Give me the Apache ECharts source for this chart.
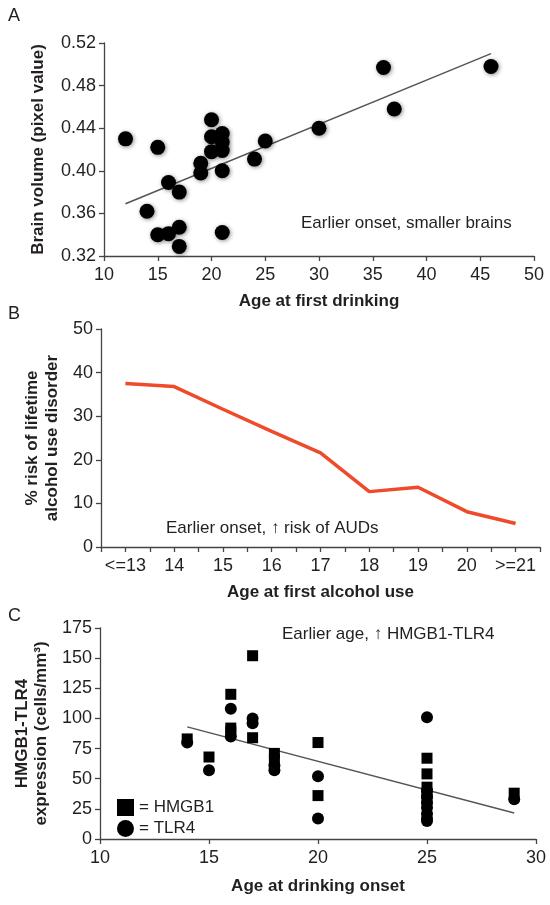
<!DOCTYPE html>
<html><head><meta charset="utf-8">
<script src="https://cdn.jsdelivr.net/npm/echarts@6/dist/echarts.min.js"></script>
<style>html,body{margin:0;padding:0;background:#fff}#c{width:550px;height:905px}</style>
</head><body><div id="c"></div>
<script>
// Panel A: brain volume vs age at first drinking
const ageA = [12,14,15,15,16,16,17,17,17,19,19,20,20,20,21,21,21,21,21,24,25,30,36,37,46];
const volA = [0.430,0.362,0.422,0.340,0.389,0.341,0.380,0.347,0.329,0.407,0.398,0.448,0.432,0.418,0.435,0.427,0.419,0.400,0.342,0.411,0.428,0.440,0.497,0.458,0.498];
const trendAx = [12,46];
const trendAy = [0.369,0.510];
// Panel B: risk of AUD by age at first alcohol use
const catB = ['<=13','14','15','16','17','18','19','20','>=21'];
const riskB = [37.5,36.8,31.6,26.5,21.6,12.7,13.7,8.1,5.4];
// Panel C: HMGB1 / TLR4 expression vs age at drinking onset
const hmgbX = [14,15,16,16,16,17,17,18,18,20,20,25,25,25,25,25,29];
const hmgbY = [83,68,120,92,89,152,84,71,66,80,36,67,54,43,38,33,38];
const tlrX = [14,15,16,16,17,17,18,18,20,20,25,25,25,25,25,25,25,25,29];
const tlrY = [80,57,108,85,100,96,61,57,52,17,101,40,35,30,26,21,17,15,33];
const trendCx = [14,29];
const trendCy = [93,21.5];

const FONT = '"Liberation Sans", Arial, Helvetica, sans-serif';
const TXT = '#231f20';
const AX = '#444';
const LBL = 18;
const TTL = 17;
const pair = (xs, ys) => xs.map((x, i) => [x, ys[i]]);

function axisBase(extra) {
  return Object.assign({
    axisLine: { show: true, lineStyle: { color: AX, width: 1.3 } },
    axisTick: { show: true, length: 5, lineStyle: { color: AX, width: 1.3 } },
    splitLine: { show: false },
    axisLabel: { color: TXT, fontSize: LBL, fontFamily: FONT },
    nameLocation: 'middle',
    nameTextStyle: { color: TXT, fontSize: TTL, fontWeight: 'bold', fontFamily: FONT }
  }, extra);
}

const chart = echarts.init(document.getElementById('c'), null, { renderer: 'canvas' });
chart.setOption({
  animation: false,
  backgroundColor: '#fff',
  textStyle: { fontFamily: FONT },
  grid: [
    { left: 104, right: 16, top: 43, height: 213 },
    { left: 101, right: 10, top: 329, height: 218 },
    { left: 100, right: 14, top: 628, height: 211 }
  ],
  xAxis: [
    axisBase({ gridIndex: 0, type: 'value', min: 10, max: 50, interval: 5, name: 'Age at first drinking', nameGap: 37,
      axisLabel: { color: TXT, fontSize: LBL, fontFamily: FONT, margin: 10 } }),
    axisBase({ gridIndex: 1, type: 'value', min: 12.5, max: 21.5, interval: 0.5, name: 'Age at first alcohol use', nameGap: 37,
      axisLabel: { color: TXT, fontSize: LBL, fontFamily: FONT, margin: 10, showMinLabel: true, showMaxLabel: true,
        formatter: v => (Number.isInteger(v) ? catB[v - 13] : '') } }),
    axisBase({ gridIndex: 2, type: 'value', min: 10, max: 30, interval: 5, name: 'Age at drinking onset', nameGap: 39,
      axisLabel: { color: TXT, fontSize: LBL, fontFamily: FONT, margin: 10 } })
  ],
  yAxis: [
    axisBase({ gridIndex: 0, type: 'value', min: 0.32, max: 0.52, interval: 0.04, name: 'Brain volume (pixel value)', nameGap: 57,
      axisLabel: { color: TXT, fontSize: LBL, fontFamily: FONT, margin: 8, formatter: v => v.toFixed(2) } }),
    axisBase({ gridIndex: 1, type: 'value', min: 0, max: 50, interval: 10, name: '% risk of lifetime\nalcohol use disorder', nameGap: 36,
      nameTextStyle: { color: TXT, fontSize: TTL, fontWeight: 'bold', fontFamily: FONT, lineHeight: 20 } }),
    axisBase({ gridIndex: 2, type: 'value', min: 0, max: 175, interval: 25, name: 'HMGB1-TLR4\nexpression (cells/mm³)', nameGap: 45,
      nameTextStyle: { color: TXT, fontSize: TTL, fontWeight: 'bold', fontFamily: FONT, lineHeight: 19 } })
  ],
  legend: {
    data: ['HMGB1', 'TLR4'], orient: 'vertical', left: 112, top: 794,
    itemWidth: 17, itemHeight: 17, itemGap: 4,
    formatter: '= {name}',
    textStyle: { color: TXT, fontSize: 17, fontFamily: FONT }
  },
  series: [
    { type: 'line', xAxisIndex: 0, yAxisIndex: 0, data: pair(trendAx, trendAy), symbol: 'none',
      lineStyle: { color: '#555', width: 1.5 }, z: 1 },
    { type: 'scatter', xAxisIndex: 0, yAxisIndex: 0, data: pair(ageA, volA), symbol: 'circle', symbolSize: 15,
      itemStyle: { color: '#000', opacity: 1, shadowBlur: 4, shadowColor: 'rgba(0,0,0,0.45)', shadowOffsetX: 1, shadowOffsetY: 1 }, z: 3 },
    { type: 'line', xAxisIndex: 1, yAxisIndex: 1, data: riskB.map((v, i) => [13 + i, v]), symbol: 'none',
      lineStyle: { color: '#ef4a2a', width: 3.5 } },
    { type: 'line', xAxisIndex: 2, yAxisIndex: 2, data: pair(trendCx, trendCy), symbol: 'none',
      lineStyle: { color: '#555', width: 1.5 }, z: 1 },
    { name: 'HMGB1', type: 'scatter', xAxisIndex: 2, yAxisIndex: 2, data: pair(hmgbX, hmgbY), symbol: 'rect', symbolSize: 11,
      itemStyle: { color: '#000', opacity: 1 }, z: 3 },
    { name: 'TLR4', type: 'scatter', xAxisIndex: 2, yAxisIndex: 2, data: pair(tlrX, tlrY), symbol: 'circle', symbolSize: 12,
      itemStyle: { color: '#000', opacity: 1 }, z: 3 }
  ],
  graphic: [
    { type: 'text', left: 8, top: 7, style: { text: 'A', font: '18px ' + FONT, fill: TXT } },
    { type: 'text', left: 8, top: 305, style: { text: 'B', font: '18px ' + FONT, fill: TXT } },
    { type: 'text', left: 8, top: 607, style: { text: 'C', font: '18px ' + FONT, fill: TXT } },
    { type: 'text', left: 301, top: 215, style: { text: 'Earlier onset, smaller brains', font: '17px ' + FONT, fill: TXT } },
    { type: 'text', left: 166, top: 520, style: { text: 'Earlier onset, \u2191 risk of AUDs', font: '17px ' + FONT, fill: TXT } },
    { type: 'text', left: 282, top: 626, style: { text: 'Earlier age, \u2191 HMGB1-TLR4', font: '17px ' + FONT, fill: TXT } }
  ]
});
</script>
</body></html>
